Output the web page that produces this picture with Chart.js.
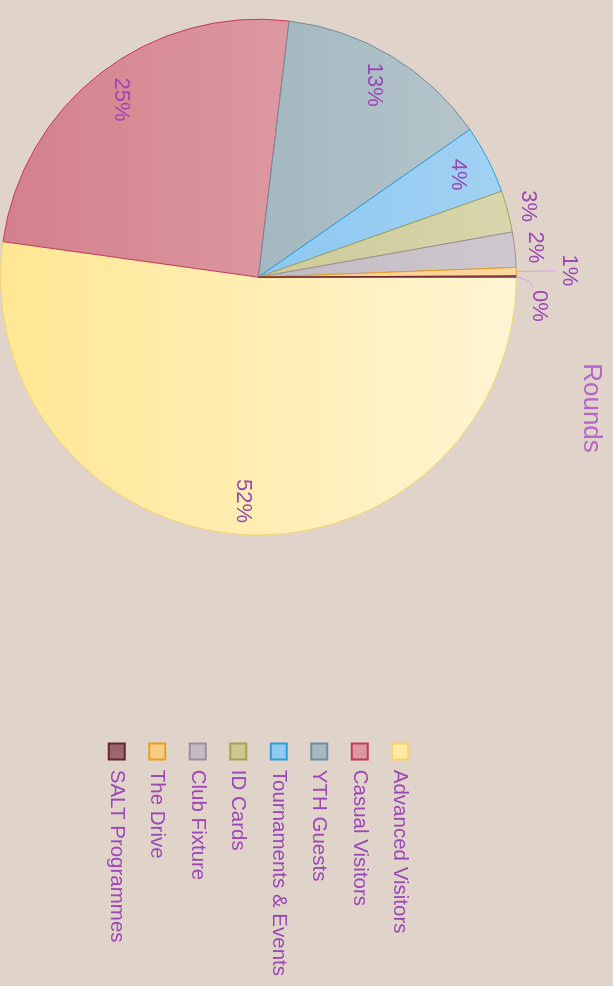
<!DOCTYPE html>
<html>
<head>
<meta charset="utf-8">
<script src="https://cdn.jsdelivr.net/npm/chart.js@4.4.1/dist/chart.umd.min.js"></script>
<style>
  html, body { margin: 0; padding: 0; background: #e0d3c9; overflow: hidden; }
  /* chart is drawn landscape and turned a quarter clockwise */
  #wrap {
    position: absolute; left: 0; top: 0;
    width: 986px; height: 613px;
    transform-origin: 0 0;
    transform: translate(613px, 0) rotate(90deg);
  }
</style>
</head>
<body>
<div id="wrap"><canvas id="roundsChart"></canvas></div>
<script>
var categories = ['Advanced Visitors', 'Casual Visitors', 'YTH Guests', 'Tournaments & Events',
                  'ID Cards', 'Club Fixture', 'The Drive', 'SALT Programmes'];
var rounds = [52.2, 24.7, 13.4, 4.3, 2.6, 2.2, 0.52, 0.08];

// colours: top of the slice, bottom of the slice, outline, legend swatch
var lightColors  = ['#fff5d3', '#e3abb0', '#b8c7cd', '#a3d2f3', '#d8d6ad', '#cfc8ce', '#ffd89e', '#a06e78'];
var darkColors   = ['#ffe794', '#d3808c', '#8fa8b4', '#76bced', '#c0bf82', '#b4acb8', '#f2bf6e', '#7e4b56'];
var borderColors = ['#f3d56b', '#c4395a', '#6e8e9a', '#2a9fd8', '#a8a24f', '#9b8f9c', '#e3a21f', '#6b2433'];
var swatchColors = ['#ffeaa5', '#dc98a0', '#a6b9c2', '#8ecaf2', '#c9c991', '#c4bbc5', '#f7cc85', '#9a6670'];

var textPurple = '#9b47b5';
var fontFamily = '"Liberation Sans", Arial, sans-serif';

function sliceFill(context) {
  var chart = context.chart, i = context.dataIndex;
  var area = chart.chartArea;
  if (!area) return darkColors[i];
  var g = chart.ctx.createLinearGradient(0, area.top, 0, area.bottom);
  g.addColorStop(0, lightColors[i]);
  g.addColorStop(1, darkColors[i]);
  return g;
}

// percentage labels, small slices pushed outside with leader lines
var sliceLabels = {
  id: 'sliceLabels',
  afterDatasetsDraw: function (chart) {
    var ctx = chart.ctx;
    var data = chart.data.datasets[0].data;
    var total = data.reduce(function (a, b) { return a + b; }, 0);
    var tiny = 0;
    ctx.save();
    ctx.font = '22px ' + fontFamily;
    ctx.fillStyle = textPurple;
    ctx.textAlign = 'center';
    ctx.textBaseline = 'middle';
    chart.getDatasetMeta(0).data.forEach(function (arc, i) {
      var p = arc.getProps(['x', 'y', 'startAngle', 'endAngle', 'outerRadius'], true);
      var r = p.outerRadius;
      var mid = (p.startAngle + p.endAngle) / 2;
      var at = function (d, a) { return [p.x + Math.cos(a) * d, p.y + Math.sin(a) * d]; };
      var pct = Math.round(data[i] / total * 100);
      var pos, q;
      if (pct >= 4) {
        pos = at(r * 0.87, mid);
      } else if (pct >= 2) {
        pos = at(r * 1.08, mid);
      } else {
        ctx.strokeStyle = '#d8a2e4';
        ctx.lineWidth = 1;
        ctx.beginPath();
        q = at(r, mid); ctx.moveTo(q[0], q[1]);
        if (tiny === 0) {
          q = at(r * 1.155, mid); ctx.lineTo(q[0], q[1]);
          pos = at(r * 1.205, mid);
        } else {
          q = at(r * 1.047, mid + 0.016); ctx.lineTo(q[0], q[1]);
          q = at(r * 1.066, mid + 0.038); ctx.lineTo(q[0], q[1]);
          pos = at(r * 1.094, mid + 0.105);
        }
        ctx.stroke();
        tiny++;
      }
      ctx.fillText(pct + '%', pos[0], pos[1]);
    });
    ctx.restore();
  }
};

// title sits centred over the left part of the canvas
var titleShift = {
  id: 'titleShift',
  afterLayout: function (chart) {
    var t = chart.titleBlock;
    if (t) { t.right = t.left + 816; t.width = 816; }
  }
};

var ctx = document.getElementById('roundsChart').getContext('2d');
var roundsChart = new Chart(ctx, {
  type: 'pie',
  data: {
    labels: categories,
    datasets: [{
      data: rounds,
      backgroundColor: sliceFill,
      borderColor: borderColors,
      borderWidth: 1
    }]
  },
  options: {
    responsive: true,
    maintainAspectRatio: false,
    animation: false,
    layout: { padding: 0 },
    plugins: {
      title: {
        display: true,
        text: 'Rounds',
        color: '#b566c9',
        font: { family: fontFamily, size: 26, weight: 'normal' },
        padding: { top: 6, bottom: 59 }
      },
      subtitle: {
        // empty spacer between pie and legend
        display: true,
        text: '',
        position: 'right',
        fullSize: false,
        weight: 500,
        font: { size: 1 },
        padding: { top: 168, bottom: 0 }
      },
      legend: {
        position: 'right',
        fullSize: false,
        maxWidth: 400,
        labels: {
          boxWidth: 16,
          boxHeight: 16,
          padding: 20,
          color: textPurple,
          font: { family: fontFamily, size: 20.5 },
          generateLabels: function () {
            return categories.map(function (text, i) {
              return {
                text: text,
                fillStyle: swatchColors[i],
                strokeStyle: borderColors[i],
                lineWidth: 2,
                fontColor: textPurple,
                hidden: false,
                index: i
              };
            });
          }
        }
      },
      tooltip: { enabled: false }
    }
  },
  plugins: [sliceLabels, titleShift]
});
</script>
</body>
</html>
